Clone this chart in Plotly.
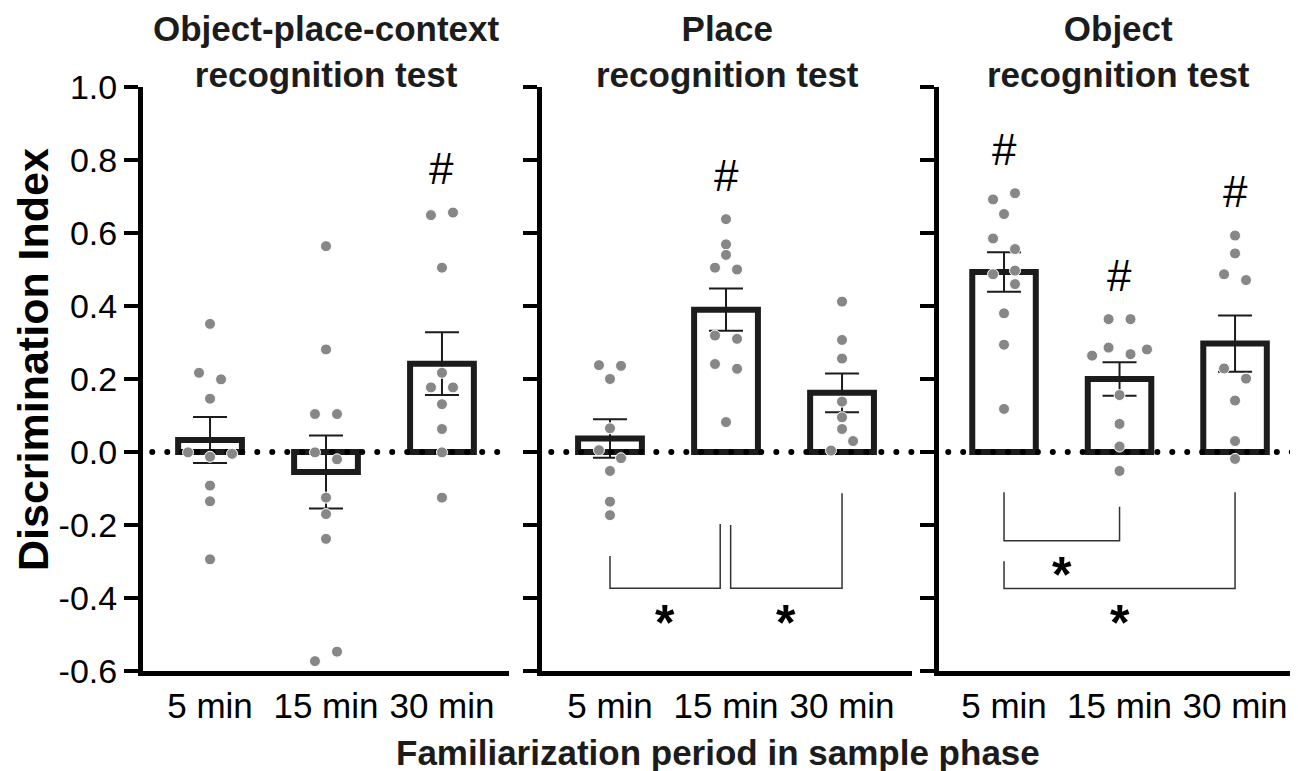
import numpy as np
import plotly.graph_objects as go

# ---------------- data ----------------
categories = ["5 min", "15 min", "30 min"]
panel_titles = [["Object-place-context", "recognition test"],
                ["Place", "recognition test"],
                ["Object", "recognition test"]]
y_ticks = [-0.6, -0.4, -0.2, 0.0, 0.2, 0.4, 0.6, 0.8, 1.0]
y_ticklabels = ["-0.6", "-0.4", "-0.2", "0.0", "0.2", "0.4", "0.6", "0.8", "1.0"]

# Object-place-context recognition test (individual animals)
opc_5 = [0.351, 0.217, 0.199, 0.146, -0.001, -0.013, -0.005, -0.092, -0.135, -0.294]
opc_15 = [0.564, 0.281, 0.104, 0.104, -0.001, -0.020, -0.125, -0.170, -0.238, -0.547, -0.573]
opc_30 = [0.649, 0.656, 0.505, 0.217, 0.177, 0.177, 0.131, 0.063, -0.001, -0.125]
opc_mean = [0.033, -0.055, 0.242]
opc_sem = [0.063, 0.100, 0.086]

# Place recognition test
place_5 = [0.238, 0.236, 0.200, 0.065, 0.005, -0.017, -0.052, -0.136, -0.173]
place_15 = [0.638, 0.569, 0.540, 0.505, 0.500, 0.319, 0.310, 0.241, 0.228, 0.082]
place_30 = [0.412, 0.307, 0.256, 0.138, 0.095, 0.063, 0.030, 0.004]
place_mean = [0.037, 0.390, 0.162]
place_sem = [0.053, 0.058, 0.053]

# Object recognition test
obj_5 = [0.692, 0.709, 0.652, 0.585, 0.556, 0.487, 0.497, 0.460, 0.380, 0.294, 0.118]
obj_15 = [0.364, 0.364, 0.286, 0.268, 0.264, 0.281, 0.156, 0.077, 0.015, -0.052]
obj_30 = [0.593, 0.544, 0.487, 0.471, 0.229, 0.201, 0.141, 0.030, -0.019]
obj_mean = [0.493, 0.200, 0.297]
obj_sem = [0.054, 0.046, 0.077]

# significance vs. zero (#): category indices per panel
hash_marks = [[2], [1], [0, 1, 2]]

# ---------------- layout helpers (positions / styles) ----------------
# beeswarm slot offsets for the dots (in dot slots)
opc_slots = [[0, -1, 1, 0, -2, 0, 2, 0, 0, 0],
             [0, 0, -1, 1, -1, 1, 0, 0, 0, 1, -1],
             [-1, 1, 0, 0, -1, 1, 0, 0, 0, 0]]
place_slots = [[-1, 1, 0, 0, -1, 1, 0, 0, 0],
               [0, 0, 0, -1, 1, -1, 1, -1, 1, 0],
               [0, 0, 0, 0, 0, 0, 1, -1]]
obj_slots = [[-1, 1, 0, -1, 1, -1, 1, 1, 0, 0, 0],
             [-1, 1, -1, 1, -2.5, 2.5, 0, 0, 0, 0],
             [0, 0, -1, 1, -1, 1, 0, 0, 0]]
SLOT = 0.095

panels = [
    dict(points=[opc_5, opc_15, opc_30], slots=opc_slots, mean=opc_mean, sem=opc_sem),
    dict(points=[place_5, place_15, place_30], slots=place_slots, mean=place_mean, sem=place_sem),
    dict(points=[obj_5, obj_15, obj_30], slots=obj_slots, mean=obj_mean, sem=obj_sem),
]

# comparison brackets: (panel, i, j, bottom, left_top, right_top, dx_left, dx_right)
brackets = [
    (1, 0, 1, -0.373, -0.285, -0.197, 0.0, -0.05),
    (1, 1, 2, -0.373, -0.200, -0.113, 0.04, 0.0),
    (2, 0, 1, -0.243, -0.110, -0.150, 0.0, 0.0),
    (2, 0, 2, -0.374, -0.299, -0.110, 0.0, 0.0),
]

OFF = 8                       # page body margin
W, H = 1298 - OFF, 771 - OFF  # figure size so that it fits in the window
TOP, BOT = 87 - OFF, 671 - OFF
domains = [(143, 509), (542, 912), (939, 1298)]
xranges = [(-0.578, 2.578), (-0.586, 2.603), (-0.563, 2.545)]

FONT = "Liberation Sans, Arial, Helvetica, sans-serif"
DARK = "#1c1c1c"


def px_to_paper(px):
    return (px - OFF) / W


def py_to_paper(py):
    return 1 - (py - OFF - TOP) / (BOT - TOP)


fig = go.Figure()
layout = dict(
    width=W, height=H,
    margin=dict(l=0, r=0, t=TOP, b=H - BOT, pad=0),
    plot_bgcolor="white", paper_bgcolor="white",
    showlegend=False,
    font=dict(family=FONT, color="black"),
)

annotations = []
shapes = []

for k, p in enumerate(panels):
    sfx = "" if k == 0 else str(k + 1)
    xa, ya = "x" + sfx, "y" + sfx
    # bars with SEM error bars
    fig.add_trace(go.Bar(
        x=[0, 1, 2], y=p["mean"], width=0.55,
        marker=dict(color="white", line=dict(color=DARK, width=6)),
        error_y=dict(type="data", array=p["sem"], symmetric=True,
                     color=DARK, thickness=2, width=17),
        xaxis=xa, yaxis=ya, cliponaxis=False,
    ))
    # dotted zero line
    r0, r1 = xranges[k]
    dots = np.arange(r0 + 0.08, r1, 15 / 116)
    fig.add_trace(go.Scatter(
        x=dots, y=np.zeros_like(dots), mode="markers",
        marker=dict(color="black", size=6),
        xaxis=xa, yaxis=ya, hoverinfo="skip", cliponaxis=False,
    ))
    # individual points
    xs, ys = [], []
    for i, (vals, sl) in enumerate(zip(p["points"], p["slots"])):
        xs += [i + s * SLOT for s in sl]
        ys += vals
    fig.add_trace(go.Scatter(
        x=xs, y=ys, mode="markers",
        marker=dict(color="#878787", size=11, line=dict(color="white", width=1)),
        xaxis=xa, yaxis=ya, cliponaxis=False,
    ))
    # hash marks
    for i in hash_marks[k]:
        annotations.append(dict(
            x=i, y=max(p["points"][i]) + 0.12, xref=xa, yref=ya,
            text="#", showarrow=False, font=dict(size=44, family=FONT, color="black"),
            xanchor="center", yanchor="middle"))
    # axes
    d0, d1 = domains[k]
    layout["xaxis" + sfx] = dict(
        domain=[px_to_paper(d0), min(1.0, px_to_paper(d1))], range=list(xranges[k]), anchor=ya,
        tickvals=[0, 1, 2], ticktext=categories, ticks="",
        showline=True, linewidth=5, linecolor="black",
        showgrid=False, zeroline=False,
        tickfont=dict(size=35, family=FONT, color="black"),
        ticklabelstandoff=0,
    )
    layout["yaxis" + sfx] = dict(
        domain=[0, 1], range=[-0.6, 1.0], anchor=xa,
        tickvals=y_ticks, ticktext=y_ticklabels,
        ticks="outside", ticklen=14, tickwidth=4,
        tickcolor="black", showline=True, linewidth=5, linecolor="black",
        showgrid=False, zeroline=False, showticklabels=(k == 0),
        tickfont=dict(size=34, family=FONT, color="black"),
        ticklabelstandoff=0,
    )
    # panel title (two lines, one text block hanging from the top edge)
    cx = px_to_paper(min((d0 + d1) / 2, 1118))
    annotations.append(dict(
        x=cx, y=py_to_paper(OFF), xref="paper", yref="paper",
        text="<b>%s</b>" % "<br>".join(panel_titles[k]), showarrow=False,
        font=dict(size=35, family=FONT, color=DARK),
        xanchor="center", yanchor="top", align="center", borderpad=0))

# brackets and asterisks
for (k, i, j, bot, lt, rt, dxl, dxr) in brackets:
    sfx = "" if k == 0 else str(k + 1)
    xl, xr = i + dxl, j + dxr
    shapes.append(dict(
        type="path", xref="x" + sfx, yref="y" + sfx,
        path="M %f,%f L %f,%f L %f,%f L %f,%f" % (xl, lt, xl, bot, xr, bot, xr, rt),
        line=dict(color="#333333", width=1.5)))
    annotations.append(dict(
        x=(xl + xr) / 2, y=bot - 0.095, xref="x" + sfx, yref="y" + sfx,
        text="<b>*</b>", showarrow=False, font=dict(size=50, family=FONT, color="black"),
        xanchor="center", yanchor="middle"))

# axis titles
annotations.append(dict(
    x=px_to_paper(33), y=py_to_paper(360), xref="paper", yref="paper",
    text="<b>Discrimination Index</b>", textangle=-90, showarrow=False,
    font=dict(size=43, family=FONT, color="black"),
    xanchor="center", yanchor="middle"))
annotations.append(dict(
    x=px_to_paper(718), y=py_to_paper(752), xref="paper", yref="paper",
    text="<b>Familiarization period in sample phase</b>", showarrow=False,
    font=dict(size=35, family=FONT, color=DARK),
    xanchor="center", yanchor="middle"))

layout["annotations"] = annotations
layout["shapes"] = shapes
fig.update_layout(**layout)
fig.write_html("out.html")
